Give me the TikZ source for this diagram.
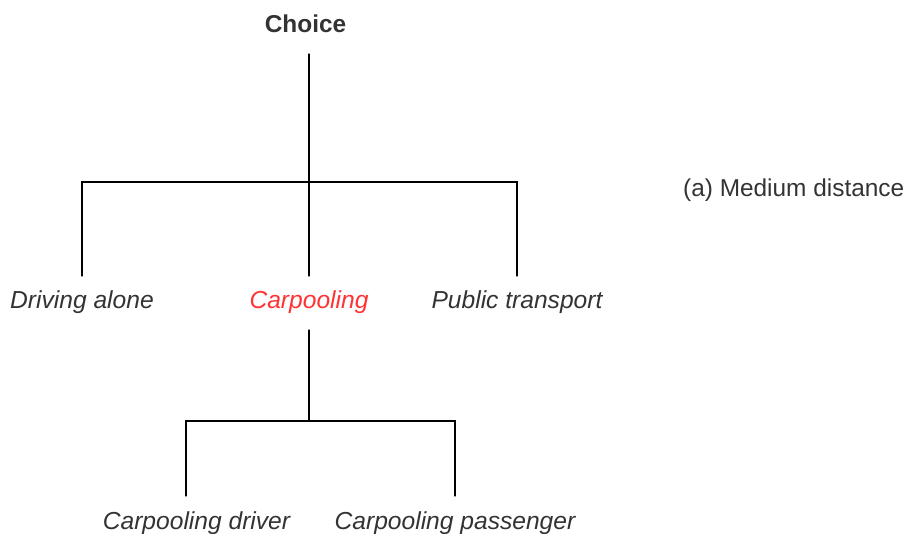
\documentclass[tikz,border=0pt]{standalone}
\usepackage{fontspec}
\setmainfont{Liberation Sans}
\definecolor{txtgray}{HTML}{333333}
\definecolor{pickred}{HTML}{FF3333}
\tikzset{
  alt/.style={inner sep=0pt,outer ysep=16pt,text height=17pt,text depth=5pt,
    text=txtgray,font=\fontsize{24.6}{28}\selectfont\itshape},
  link/.style={line width=1.2pt,line cap=round,line join=miter}
}
\begin{document}
\begin{tikzpicture}[x=1pt,y=1pt]
  \useasboundingbox (0,0) rectangle (907,533);
  \node[alt,font=\fontsize{24.4}{28}\selectfont\bfseries] (choice) at (305.5,506) {Choice};
  \node[alt] (drive) at (82,230) {Driving alone};
  \node[alt,text=pickred] (carpool) at (309,230) {Carpooling};
  \node[alt] (public) at (517,230) {Public transport};
  \node[alt] (driver) at (196.5,10) {Carpooling driver};
  \node[alt] (passenger) at (455,10) {Carpooling passenger};
  \coordinate (bus1) at (309,351);
  \coordinate (bus2) at (309,112);
  \draw[link] (choice.south -| bus1) -- (carpool.north);
  \draw[link] (drive) |- (bus1) -| (public);
  \draw[link] (carpool.south) -- (bus2);
  \draw[link] (driver.north -| 186,0) |- (bus2) -| (passenger);
  \node[anchor=base west,inner sep=0pt,text=txtgray,font=\fontsize{24.4}{28}\selectfont] (label) at (683,336) {(a) Medium distance};
\end{tikzpicture}
\end{document}
